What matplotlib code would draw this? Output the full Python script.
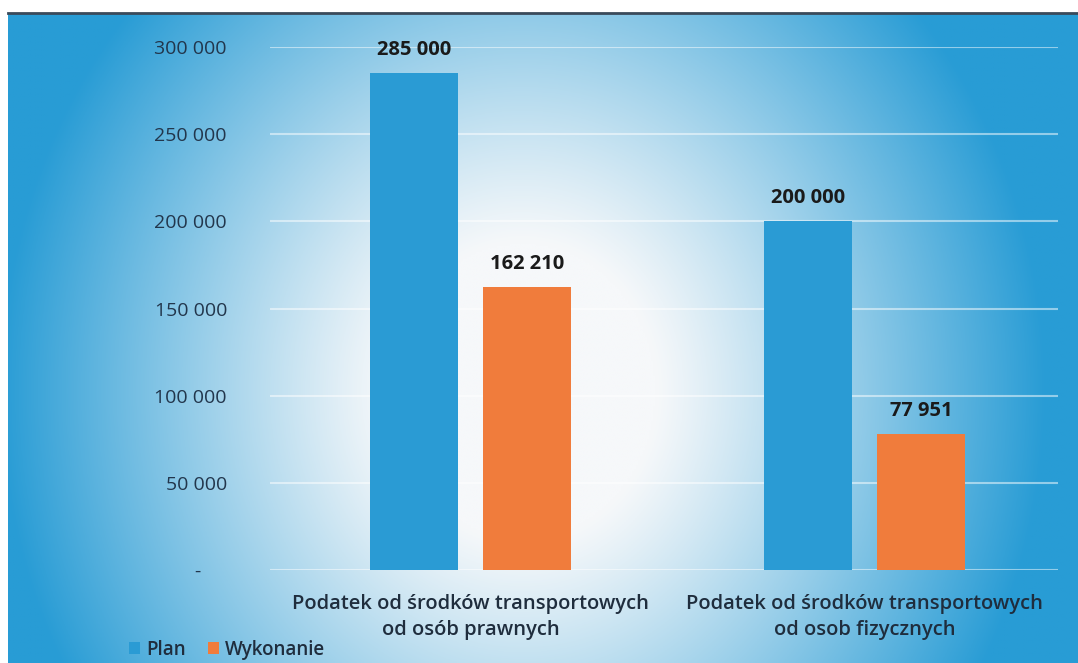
import numpy as np
import matplotlib
matplotlib.use("Agg")
import matplotlib.pyplot as plt
import matplotlib.transforms as mtransforms
from matplotlib.ticker import FuncFormatter

cat_line1 = ["Podatek od środków transportowych",
             "Podatek od środków transportowych"]
cat_line2 = ["od osób prawnych", "od osob fizycznych"]
plan = [285000, 200000]
wykonanie = [162210, 77951]
series_names = ["Plan", "Wykonanie"]
yticks = [0, 50000, 100000, 150000, 200000, 250000, 300000]

W, H = 1078, 663
fig = plt.figure(figsize=(W / 100, H / 100), dpi=100)
fig.patch.set_facecolor("white")

# background gradient
bg = fig.add_axes([8 / W, 0, 1 - 8 / W, 1 - 13 / H])
bg.set_axis_off()
ny, nx = 300, 500
yy, xx = np.mgrid[0:ny, 0:nx]
cx, cy = 0.48 * nx, 0.58 * ny
d = np.sqrt(((xx - cx) / (0.52 * nx)) ** 2 + ((yy - cy) / (0.95 * ny)) ** 2)
t = np.clip((d - 0.24) / 0.70, 0, 1) ** 1.1
blue = np.array([40, 156, 213]) / 255
white = np.array([246, 248, 250]) / 255
img = white[None, None, :] * (1 - t[..., None]) + blue[None, None, :] * t[..., None]
bg.imshow(img, aspect="auto", extent=[0, 1, 0, 1], origin="upper")
bg.set_xlim(0, 1)
bg.set_ylim(0, 1)
bg.plot([0, 1], [1, 1], color="#3a4a5a", lw=2, clip_on=False)

ax = fig.add_axes([270 / W, 1 - 570 / H, (1058 - 270) / W, (570 - 47) / H])
ax.set_facecolor("none")
x = np.arange(len(cat_line1))
bw = 0.223
off = 0.143
c_plan = "#2a9bd4"
c_wyk = "#f07c3c"
b1 = ax.bar(x - off, plan, bw, color=c_plan, label=series_names[0], zorder=3)
b2 = ax.bar(x + off, wykonanie, bw, color=c_wyk, label=series_names[1], zorder=3)

ax.set_xlim(-0.509, 1.491)
ax.set_ylim(0, 300000)
ax.set_yticks(yticks)
ax.yaxis.set_major_formatter(FuncFormatter(
    lambda v, p: "-     " if v == 0 else f"{int(v):,}".replace(",", " ")))
ax.grid(axis="y", color="white", alpha=0.5, lw=1.5, zorder=1)
for s in ax.spines.values():
    s.set_visible(False)
ax.tick_params(axis="y", length=0, pad=31, labelsize=14, labelcolor="#22364c")
ax.tick_params(axis="x", length=0, pad=17, labelsize=14.5, labelcolor="#1f2d3d")
ax.set_xticks(x)
ax.set_xticklabels(cat_line1, fontweight="semibold")
for lab in ax.get_yticklabels() + ax.get_xticklabels():
    lab.set_family("Open Sans")

trans = mtransforms.blended_transform_factory(ax.transData, fig.transFigure)
for xi, l2 in zip(x, cat_line2):
    ax.text(xi, 1 - 630 / H, l2, transform=trans, ha="center", va="center",
            fontsize=14.5, fontweight="semibold", color="#1f2d3d",
            family="Open Sans", clip_on=False)

for bars, vals in ((b1, plan), (b2, wykonanie)):
    for r, v in zip(bars, vals):
        ax.text(r.get_x() + r.get_width() / 2, v + 7500,
                f"{v:,}".replace(",", " "), ha="center", va="bottom",
                fontsize=14.5, fontweight="bold", color="#1a1a1a",
                family="Open Sans", clip_on=False)

leg = fig.legend(handles=[b1, b2], labels=series_names, loc="lower left",
                 bbox_to_anchor=(112 / W, -0.021), ncol=2, frameon=False,
                 handlelength=0.6, handleheight=0.6, handletextpad=0.3,
                 columnspacing=1.2,
                 prop={"family": "Open Sans", "size": 13.5, "weight": "semibold"})
for txt in leg.get_texts():
    txt.set_color("#1f2d3d")

fig.savefig("out.png", dpi=100)
